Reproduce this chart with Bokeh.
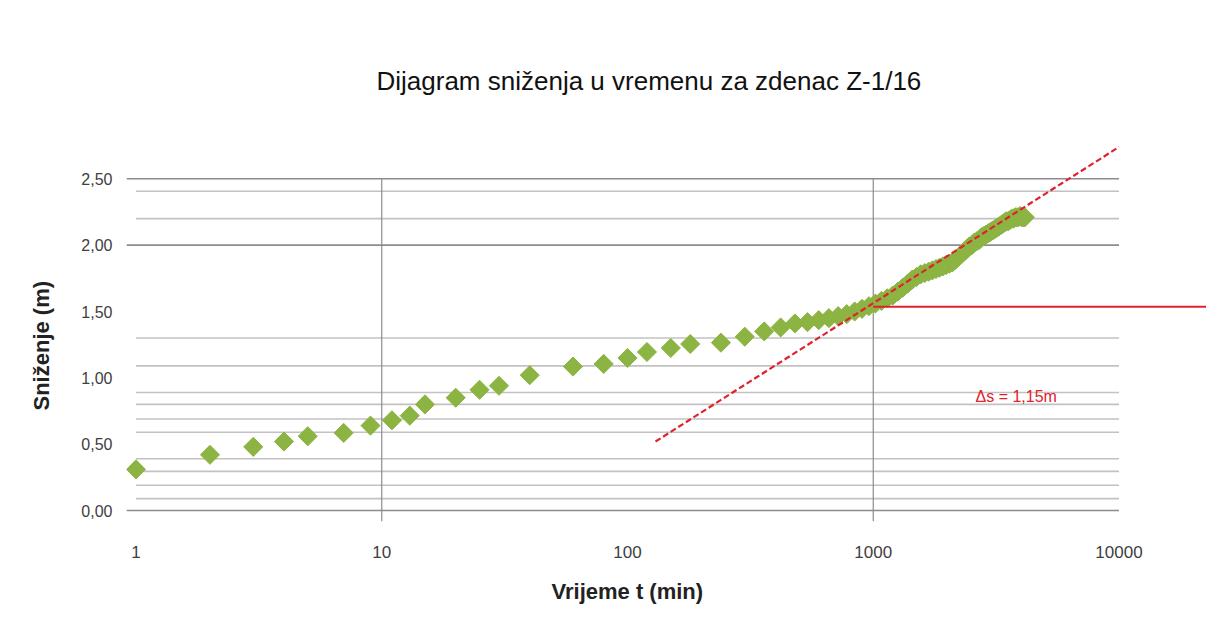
import math
from bokeh.plotting import figure
from bokeh.models import Label, FixedTicker, CustomJSTickFormatter, Range1d, Title
from bokeh.embed import file_html
from bokeh.resources import INLINE

# ---------------- data ----------------
time_min = [1, 2, 3, 4, 5, 7, 9, 11, 13, 15, 20, 25, 30, 40, 60, 80, 100, 120, 150, 180,
            240, 300, 360, 420, 480, 540, 600, 660, 720, 780, 840, 900, 960, 1020,
            1080, 1140, 1200, 1260, 1320, 1380, 1440, 1500, 1560, 1620, 1680, 1740, 1800,
            1860, 1920, 1980, 2040, 2100, 2160, 2220, 2280, 2340, 2400, 2460, 2520, 2580,
            2640, 2700, 2760, 2820, 2880, 2940, 3000, 3060, 3120, 3180, 3240, 3300, 3360,
            3420, 3480, 3540, 3600, 3660, 3720, 3780, 3840, 3900, 3960, 4020, 4080, 4140]
drawdown_m = [0.31, 0.42, 0.48, 0.52, 0.56, 0.585, 0.64, 0.68, 0.715, 0.80, 0.85, 0.91, 0.94, 1.02,
              1.085, 1.105, 1.15, 1.195, 1.225, 1.255, 1.265, 1.31, 1.35, 1.38, 1.41, 1.42, 1.435,
              1.45, 1.465, 1.48, 1.50, 1.52, 1.54, 1.56,
              1.58, 1.60, 1.62, 1.65, 1.68, 1.71, 1.74, 1.76, 1.78, 1.79, 1.80, 1.81, 1.82,
              1.83, 1.84, 1.85, 1.86, 1.87, 1.89, 1.91, 1.93, 1.95, 1.97, 1.99, 2.00, 2.02,
              2.03, 2.04, 2.06, 2.07, 2.08, 2.09, 2.10, 2.11, 2.12, 2.13, 2.14, 2.15, 2.16,
              2.17, 2.18, 2.18, 2.19, 2.20, 2.20, 2.21, 2.21, 2.21, 2.22, 2.21, 2.21, 2.21]

fit_t = [130, 10000]
fit_s = [0.52, 2.74]
ref_level = 1.535
ref_t = [1000, 30000]

x_ticks = [1, 10, 100, 1000, 10000]
y_ticks = [0.0, 0.5, 1.0, 1.5, 2.0, 2.5]
grid_major = [0.0, 2.0, 2.5]
grid_minor = [0.09, 0.19, 0.295, 0.39, 0.59, 0.69, 0.80, 0.89, 1.09, 1.30, 2.20, 2.406]
grid_vertical = [10, 1000]

title_text = "Dijagram sniženja u vremenu za zdenac Z-1/16"
x_title = "Vrijeme t (min)"
y_title = "Sniženje (m)"
delta_text = "Δs = 1,15m"

GREEN = "#8cb443"
RED = "#e0222c"
FONT = "Liberation Sans"

# ---------------- figure ----------------
PX_DEC = 245.75      # pixels per decade
PX_UNIT = 133.0      # pixels per metre
X0, Y0 = 135.5, 511  # pixel of x=1 and y=0
LEFT, RIGHT, TOP, BOTTOM = 126, 1206, 105, 522
W, H = 1206, 620

x_start = 10 ** (-(X0 - LEFT) / PX_DEC)
x_end = 10 ** ((RIGHT - X0) / PX_DEC)
y_start = (Y0 - BOTTOM) / PX_UNIT
y_end = (Y0 - TOP) / PX_UNIT

p = figure(width=W, height=H, x_axis_type="log",
           x_range=Range1d(x_start, x_end), y_range=Range1d(y_start, y_end),
           output_backend="svg", toolbar_location=None,
           min_border_left=LEFT, min_border_right=W - RIGHT,
           min_border_top=TOP, min_border_bottom=H - BOTTOM)
p.outline_line_color = None
p.xgrid.visible = False
p.ygrid.visible = False
p.background_fill_color = "white"
p.border_fill_color = "white"

# title above
p.title.text = title_text
p.title.align = "left"
p.title.offset = 250
p.title.text_font = FONT
p.title.text_font_size = "26px"
p.title.text_font_style = "normal"
p.title.text_color = "#111111"
p.title.standoff = 19

# gridlines
p.segment(x0=[x_start] * len(grid_major), x1=[10000] * len(grid_major),
          y0=grid_major, y1=grid_major, line_color="#8c8c8c", line_width=1.6)
p.segment(x0=[1] * len(grid_minor), x1=[10000] * len(grid_minor),
          y0=grid_minor, y1=grid_minor, line_color="#c2c2c2", line_width=1.6)
p.segment(x0=grid_vertical, x1=grid_vertical, y0=[y_start] * len(grid_vertical),
          y1=[2.5] * len(grid_vertical), line_color="#8c8c8c", line_width=1.2)

# data
p.scatter(time_min, drawdown_m, marker="square", angle=math.pi / 4, size=13.5,
          fill_color=GREEN, line_color=GREEN, line_width=1)

# fit line and reference level
p.line(fit_t, fit_s, line_color=RED, line_width=2.2, line_dash="6 3")
p.line(ref_t, [ref_level, ref_level], line_color=RED, line_width=2)

# axes
p.xaxis.ticker = FixedTicker(ticks=x_ticks)
p.xaxis.formatter = CustomJSTickFormatter(code="return tick.toFixed(0);")
p.xaxis.axis_line_color = None
p.xaxis.major_tick_line_color = None
p.xaxis.minor_tick_line_color = None
p.xaxis.major_label_standoff = 18
p.xaxis.major_label_text_font = FONT
p.xaxis.major_label_text_font_size = "17px"
p.xaxis.major_label_text_color = "#404040"

p.yaxis.ticker = FixedTicker(ticks=y_ticks)
p.yaxis.formatter = CustomJSTickFormatter(code="return tick.toFixed(2).replace('.', ',');")
p.yaxis.axis_line_color = None
p.yaxis.major_tick_line_color = None
p.yaxis.minor_tick_line_color = None
p.yaxis.major_label_standoff = 8
p.yaxis.major_label_text_font = FONT
p.yaxis.major_label_text_font_size = "16px"
p.yaxis.major_label_text_color = "#404040"

# axis titles as side titles
p.add_layout(Title(text=x_title, align="left", offset=425, standoff=33,
                   text_font=FONT, text_font_size="22px", text_font_style="bold",
                   text_color="#222222"), "below")
p.add_layout(Title(text=y_title, align="left", offset=111, standoff=50,
                   text_font=FONT, text_font_size="22px", text_font_style="bold",
                   text_color="#222222"), "left")

# annotation
p.add_layout(Label(x=10 ** ((975 - X0) / PX_DEC), y=(Y0 - 397) / PX_UNIT, text=delta_text,
                   text_align="left", text_baseline="middle", text_font=FONT,
                   text_font_size="16px", text_color=RED))

open("out.html", "w").write(file_html(p, INLINE))
